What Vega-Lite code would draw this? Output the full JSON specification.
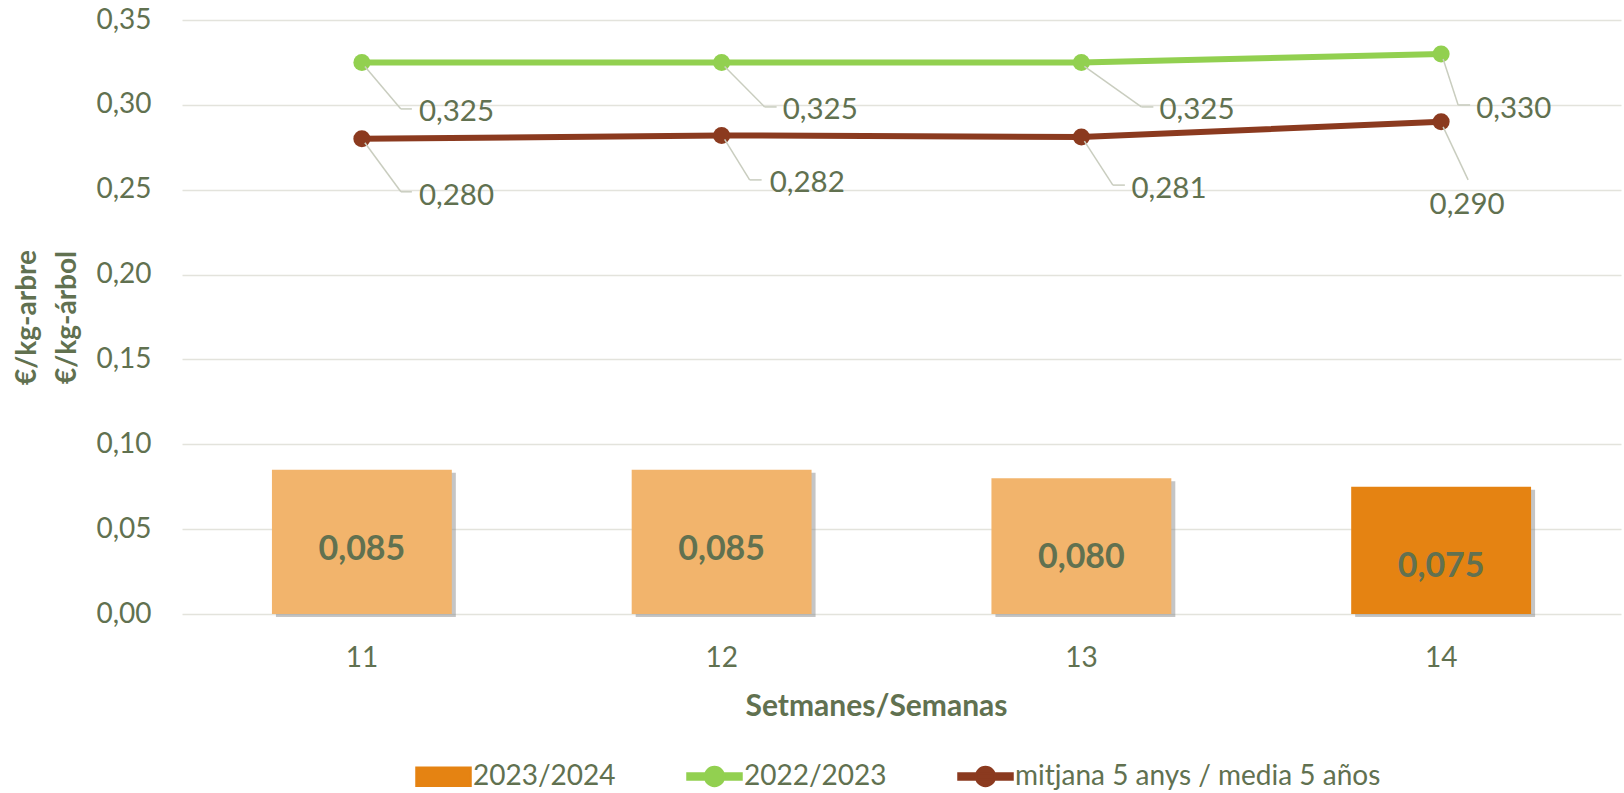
{
  "$schema": "https://vega.github.io/schema/vega-lite/v6.json",
  "autosize": "none",
  "width": 1439,
  "height": 594,
  "padding": {"left": 182, "top": 20, "right": 3, "bottom": 179},
  "background": "white",
  "datasets": {
    "bars": [
      {"week": 11, "series": "2023/2024", "value": 0.085},
      {"week": 12, "series": "2023/2024", "value": 0.085},
      {"week": 13, "series": "2023/2024", "value": 0.080},
      {"week": 14, "series": "2023/2024", "value": 0.075}
    ],
    "lines": [
      {"week": 11, "series": "2022/2023", "value": 0.325},
      {"week": 12, "series": "2022/2023", "value": 0.325},
      {"week": 13, "series": "2022/2023", "value": 0.325},
      {"week": 14, "series": "2022/2023", "value": 0.330},
      {"week": 11, "series": "mitjana 5 anys / media 5 años", "value": 0.280},
      {"week": 12, "series": "mitjana 5 anys / media 5 años", "value": 0.282},
      {"week": 13, "series": "mitjana 5 anys / media 5 años", "value": 0.281},
      {"week": 14, "series": "mitjana 5 anys / media 5 años", "value": 0.290}
    ]
  },
  "encoding": {
    "x": {
      "field": "week", "type": "ordinal",
      "scale": {"paddingInner": 0.5, "paddingOuter": 0.25},
      "axis": {"title": "Setmanes/Semanas", "labelAngle": 0, "domain": false, "ticks": false, "labelPadding": 30, "titlePadding": 19, "titleX": 694, "titleFontSize": 30}
    },
    "y": {
      "field": "value", "type": "quantitative",
      "scale": {"domain": [0, 0.35], "nice": false, "zero": true},
      "axis": {"title": ["€/kg-arbre", "€/kg-árbol"], "values": [0, 0.05, 0.1, 0.15, 0.2, 0.25, 0.3, 0.35], "format": ".2f", "domain": false, "ticks": false, "labelPadding": 31, "titlePadding": 14, "titleLineHeight": 40, "grid": true}
    }
  },
  "layer": [
    {
      "data": {"name": "bars"},
      "mark": {"type": "bar", "color": "#8C8C8C", "opacity": 0.5, "xOffset": 4, "yOffset": 3, "y2Offset": 2},
      "encoding": {}
    },
    {
      "data": {"name": "bars"},
      "mark": {"type": "bar"},
      "encoding": {
        "color": {
          "condition": {"test": "datum.week != 14", "value": "#F2B46C"},
          "field": "series", "type": "nominal",
          "scale": {"domain": ["2023/2024", "2022/2023", "mitjana 5 anys / media 5 años"], "range": ["#E58312", "#92D050", "#8B3A1F"]},
          "legend": {
            "title": null, "orient": "none", "direction": "horizontal", "legendX": 233, "legendY": 728,
            "labelFontSize": 28, "labelColor": "#617150", "labelFont": "Lato", "labelLimit": 800,
            "labelOffset": 1, "columnPadding": 66, "symbolSize": 2916,
            "encode": {
              "symbols": {
                "update": {
                  "shape": {"signal": "datum.value === '2023/2024' ? 'M-1,-0.33L1,-0.33L1,0.33L-1,0.33Z' : 'M-1,-0.11L1,-0.11L1,0.11L-1,0.11Z M0.35,0A0.35,0.35 0 1 1 -0.35,0A0.35,0.35 0 1 1 0.35,0Z'"},
                  "fill": {"signal": "datum.value === '2023/2024' ? '#E58312' : (datum.value === '2022/2023' ? '#92D050' : '#8B3A1F')"},
                  "stroke": {"signal": "datum.value === '2023/2024' ? '#A8D08D' : 'transparent'"},
                  "strokeWidth": {"value": 2.5},
                  "opacity": {"value": 1},
                  "fillOpacity": {"value": 1},
                  "strokeOpacity": {"value": 1}
                }
              }
            }
          }
        }
      }
    },
    {
      "data": {"name": "bars"},
      "mark": {"type": "text", "fontSize": 34, "fontWeight": "bold", "color": "#617150", "baseline": "middle", "dy": 80},
      "encoding": {"text": {"field": "value", "type": "quantitative", "format": ".3f"}}
    },
    {
      "data": {"name": "lines"},
      "mark": {"type": "line", "strokeWidth": 6},
      "encoding": {"color": {"field": "series", "type": "nominal"}}
    },
    {
      "data": {"name": "lines"},
      "mark": {"type": "point", "filled": true, "size": 290, "opacity": 1},
      "encoding": {"color": {"field": "series", "type": "nominal"}}
    },

    {"data": {"name": "lines"}, "transform": [{"filter": "datum.series === '2022/2023' && datum.week === 11"}],
     "mark": {"type": "rule", "color": "#C9CDBF", "strokeWidth": 1.5, "xOffset": 3, "yOffset": 4, "x2Offset": 39, "y2Offset": 46.5},
     "encoding": {"x2": {"field": "week"}, "y2": {"field": "value"}}},
    {"data": {"name": "lines"}, "transform": [{"filter": "datum.series === '2022/2023' && datum.week === 11"}],
     "mark": {"type": "rule", "color": "#C9CDBF", "strokeWidth": 1.5, "xOffset": 39, "yOffset": 46.5, "x2Offset": 50, "y2Offset": 46.5},
     "encoding": {"x2": {"field": "week"}, "y2": {"field": "value"}}},
    {"data": {"name": "lines"}, "transform": [{"filter": "datum.series === '2022/2023' && datum.week === 11"}],
     "mark": {"type": "text", "align": "left", "baseline": "middle", "fontSize": 29.5, "color": "#617150", "dx": 57, "dy": 50},
     "encoding": {"text": {"field": "value", "type": "quantitative", "format": ".3f"}}},

    {"data": {"name": "lines"}, "transform": [{"filter": "datum.series === '2022/2023' && datum.week === 12"}],
     "mark": {"type": "rule", "color": "#C9CDBF", "strokeWidth": 1.5, "xOffset": 3, "yOffset": 4, "x2Offset": 43, "y2Offset": 44.5},
     "encoding": {"x2": {"field": "week"}, "y2": {"field": "value"}}},
    {"data": {"name": "lines"}, "transform": [{"filter": "datum.series === '2022/2023' && datum.week === 12"}],
     "mark": {"type": "rule", "color": "#C9CDBF", "strokeWidth": 1.5, "xOffset": 43, "yOffset": 44.5, "x2Offset": 55, "y2Offset": 44.5},
     "encoding": {"x2": {"field": "week"}, "y2": {"field": "value"}}},
    {"data": {"name": "lines"}, "transform": [{"filter": "datum.series === '2022/2023' && datum.week === 12"}],
     "mark": {"type": "text", "align": "left", "baseline": "middle", "fontSize": 29.5, "color": "#617150", "dx": 61, "dy": 47.5},
     "encoding": {"text": {"field": "value", "type": "quantitative", "format": ".3f"}}},

    {"data": {"name": "lines"}, "transform": [{"filter": "datum.series === '2022/2023' && datum.week === 13"}],
     "mark": {"type": "rule", "color": "#C9CDBF", "strokeWidth": 1.5, "xOffset": 3, "yOffset": 4, "x2Offset": 60, "y2Offset": 44.5},
     "encoding": {"x2": {"field": "week"}, "y2": {"field": "value"}}},
    {"data": {"name": "lines"}, "transform": [{"filter": "datum.series === '2022/2023' && datum.week === 13"}],
     "mark": {"type": "rule", "color": "#C9CDBF", "strokeWidth": 1.5, "xOffset": 60, "yOffset": 44.5, "x2Offset": 72, "y2Offset": 44.5},
     "encoding": {"x2": {"field": "week"}, "y2": {"field": "value"}}},
    {"data": {"name": "lines"}, "transform": [{"filter": "datum.series === '2022/2023' && datum.week === 13"}],
     "mark": {"type": "text", "align": "left", "baseline": "middle", "fontSize": 29.5, "color": "#617150", "dx": 78, "dy": 47.5},
     "encoding": {"text": {"field": "value", "type": "quantitative", "format": ".3f"}}},

    {"data": {"name": "lines"}, "transform": [{"filter": "datum.series === '2022/2023' && datum.week === 14"}],
     "mark": {"type": "rule", "color": "#C9CDBF", "strokeWidth": 1.5, "xOffset": 2, "yOffset": 5, "x2Offset": 17, "y2Offset": 51},
     "encoding": {"x2": {"field": "week"}, "y2": {"field": "value"}}},
    {"data": {"name": "lines"}, "transform": [{"filter": "datum.series === '2022/2023' && datum.week === 14"}],
     "mark": {"type": "rule", "color": "#C9CDBF", "strokeWidth": 1.5, "xOffset": 17, "yOffset": 51, "x2Offset": 29, "y2Offset": 51},
     "encoding": {"x2": {"field": "week"}, "y2": {"field": "value"}}},
    {"data": {"name": "lines"}, "transform": [{"filter": "datum.series === '2022/2023' && datum.week === 14"}],
     "mark": {"type": "text", "align": "left", "baseline": "middle", "fontSize": 29.5, "color": "#617150", "dx": 35, "dy": 55},
     "encoding": {"text": {"field": "value", "type": "quantitative", "format": ".3f"}}},

    {"data": {"name": "lines"}, "transform": [{"filter": "datum.series !== '2022/2023' && datum.week === 11"}],
     "mark": {"type": "rule", "color": "#C9CDBF", "strokeWidth": 1.5, "xOffset": 3, "yOffset": 4, "x2Offset": 39, "y2Offset": 53},
     "encoding": {"x2": {"field": "week"}, "y2": {"field": "value"}}},
    {"data": {"name": "lines"}, "transform": [{"filter": "datum.series !== '2022/2023' && datum.week === 11"}],
     "mark": {"type": "rule", "color": "#C9CDBF", "strokeWidth": 1.5, "xOffset": 39, "yOffset": 53, "x2Offset": 50, "y2Offset": 53},
     "encoding": {"x2": {"field": "week"}, "y2": {"field": "value"}}},
    {"data": {"name": "lines"}, "transform": [{"filter": "datum.series !== '2022/2023' && datum.week === 11"}],
     "mark": {"type": "text", "align": "left", "baseline": "middle", "fontSize": 29.5, "color": "#617150", "dx": 57, "dy": 57},
     "encoding": {"text": {"field": "value", "type": "quantitative", "format": ".3f"}}},

    {"data": {"name": "lines"}, "transform": [{"filter": "datum.series !== '2022/2023' && datum.week === 12"}],
     "mark": {"type": "rule", "color": "#C9CDBF", "strokeWidth": 1.5, "xOffset": 3, "yOffset": 4, "x2Offset": 28, "y2Offset": 44.5},
     "encoding": {"x2": {"field": "week"}, "y2": {"field": "value"}}},
    {"data": {"name": "lines"}, "transform": [{"filter": "datum.series !== '2022/2023' && datum.week === 12"}],
     "mark": {"type": "rule", "color": "#C9CDBF", "strokeWidth": 1.5, "xOffset": 28, "yOffset": 44.5, "x2Offset": 40, "y2Offset": 44.5},
     "encoding": {"x2": {"field": "week"}, "y2": {"field": "value"}}},
    {"data": {"name": "lines"}, "transform": [{"filter": "datum.series !== '2022/2023' && datum.week === 12"}],
     "mark": {"type": "text", "align": "left", "baseline": "middle", "fontSize": 29.5, "color": "#617150", "dx": 48, "dy": 48},
     "encoding": {"text": {"field": "value", "type": "quantitative", "format": ".3f"}}},

    {"data": {"name": "lines"}, "transform": [{"filter": "datum.series !== '2022/2023' && datum.week === 13"}],
     "mark": {"type": "rule", "color": "#C9CDBF", "strokeWidth": 1.5, "xOffset": 3, "yOffset": 4, "x2Offset": 31.5, "y2Offset": 48},
     "encoding": {"x2": {"field": "week"}, "y2": {"field": "value"}}},
    {"data": {"name": "lines"}, "transform": [{"filter": "datum.series !== '2022/2023' && datum.week === 13"}],
     "mark": {"type": "rule", "color": "#C9CDBF", "strokeWidth": 1.5, "xOffset": 31.5, "yOffset": 48, "x2Offset": 43.5, "y2Offset": 48},
     "encoding": {"x2": {"field": "week"}, "y2": {"field": "value"}}},
    {"data": {"name": "lines"}, "transform": [{"filter": "datum.series !== '2022/2023' && datum.week === 13"}],
     "mark": {"type": "text", "align": "left", "baseline": "middle", "fontSize": 29.5, "color": "#617150", "dx": 50, "dy": 51.5},
     "encoding": {"text": {"field": "value", "type": "quantitative", "format": ".3f"}}},

    {"data": {"name": "lines"}, "transform": [{"filter": "datum.series !== '2022/2023' && datum.week === 14"}],
     "mark": {"type": "rule", "color": "#C9CDBF", "strokeWidth": 1.5, "xOffset": 2, "yOffset": 5, "x2Offset": 27, "y2Offset": 58},
     "encoding": {"x2": {"field": "week"}, "y2": {"field": "value"}}},
    {"data": {"name": "lines"}, "transform": [{"filter": "datum.series !== '2022/2023' && datum.week === 14"}],
     "mark": {"type": "text", "align": "center", "baseline": "middle", "fontSize": 29.5, "color": "#617150", "dx": 26, "dy": 83},
     "encoding": {"text": {"field": "value", "type": "quantitative", "format": ".3f"}}}
  ],
  "config": {
    "font": "Lato",
    "locale": {"number": {"decimal": ",", "thousands": ".", "grouping": [3], "currency": ["", " €"]}},
    "view": {"stroke": null},
    "axis": {
      "labelFont": "Lato", "labelFontSize": 28, "labelColor": "#617150",
      "titleFont": "Lato", "titleFontSize": 28, "titleFontWeight": "bold", "titleColor": "#617150",
      "gridColor": "#E3E3DC", "gridWidth": 1.5
    },
    "text": {"font": "Lato"}
  }
}
